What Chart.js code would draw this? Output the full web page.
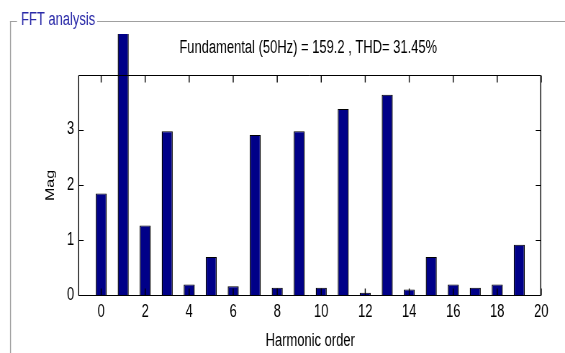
<!DOCTYPE html>
<html>
<head>
<meta charset="utf-8">
<script src="https://cdn.jsdelivr.net/npm/chart.js@4.4.1/dist/chart.umd.min.js"></script>
<style>
  body { margin: 0; background: #fff; }
  /* the figure was captured horizontally squeezed, so draw wide and squeeze it back */
  canvas { display: block; width: 565px; height: 353px; }
</style>
</head>
<body>
<canvas id="fftCanvas" width="785" height="353" style="width:565px;height:353px"></canvas>
<script>
// harmonic spectrum, values (h1 is the fundamental)
var harmonics = [0, 1, 2, 3, 4, 5, 6, 7, 8, 9, 10, 11, 12, 13, 14, 15, 16, 17, 18, 19];
var magnitudes = [1.84, 159.2, 1.26, 2.97, 0.19, 0.69, 0.16, 2.90, 0.13, 2.97,
                  0.13, 3.37, 0.04, 3.63, 0.10, 0.69, 0.19, 0.13, 0.19, 0.91];
var xTicks = [0, 2, 4, 6, 8, 10, 12, 14, 16, 18, 20];
var yTicks = [0, 1, 2, 3];
var xRange = [-1, 20];
var yRange = [0, 3.97];

var panelTitle = 'FFT analysis';
var chartTitle = 'Fundamental (50Hz) = 159.2 , THD= 31.45%';
var xLabel = 'Harmonic order';
var yLabel = 'Mag';

var sq = 565 / 785;   // horizontal squeeze of the canvas
var fam = '"Liberation Sans", Arial, sans-serif';

// 01. grey uipanel frame with its blue caption, axes title centred over the box
var panelFrame = {
  id: 'panelFrame',
  beforeDraw: function(chart) {
    var ctx = chart.ctx;
    var a = chart.chartArea;
    var capX = 21 / sq;
    ctx.save();
    ctx.font = '18px ' + fam;
    var tw = ctx.measureText(panelTitle).width;
    ctx.strokeStyle = '#a0a0a0';
    ctx.lineWidth = 1;
    ctx.beginPath();
    ctx.moveTo(17 / sq, 21.5);
    ctx.lineTo(10 / sq, 21.5);
    ctx.moveTo(capX + tw + 2 / sq, 21.5);
    ctx.lineTo(chart.width, 21.5);
    ctx.stroke();
    ctx.lineWidth = 1 / sq;
    ctx.beginPath();
    ctx.moveTo(10.5 / sq, 21);
    ctx.lineTo(10.5 / sq, 353);
    ctx.stroke();
    ctx.textBaseline = 'middle';
    ctx.fillStyle = '#2a2aa8';
    ctx.fillText(panelTitle, capX, 20);
    ctx.fillStyle = '#000';
    ctx.textAlign = 'center';
    ctx.fillText(chartTitle, (a.left + a.right) / 2 - 2 / sq, 48);
    ctx.restore();
  }
};

// 02. MATLAB style axes box, ticks pointing inwards on all sides
var axesBox = {
  id: 'axesBox',
  afterDatasetsDraw: function(chart) {
    var ctx = chart.ctx;
    var a = chart.chartArea;
    var xs = chart.scales.x, ys = chart.scales.y;
    var l = a.left - 0.5 / sq, r = a.right - 0.5 / sq, t = a.top - 0.5, b = a.bottom + 0.5;
    ctx.save();
    ctx.strokeStyle = '#000';
    // vertical strokes get squeezed, so make them wider
    ctx.lineWidth = 1 / sq;
    ctx.beginPath();
    xTicks.forEach(function(v) {
      var px = xs.getPixelForValue(v);
      ctx.moveTo(px, b); ctx.lineTo(px, b - 7);
      ctx.moveTo(px, t); ctx.lineTo(px, t + 7);
    });
    ctx.moveTo(l, t); ctx.lineTo(l, b);
    ctx.moveTo(r, t); ctx.lineTo(r, b);
    ctx.stroke();
    ctx.lineWidth = 1;
    ctx.beginPath();
    yTicks.forEach(function(v) {
      var py = Math.round(ys.getPixelForValue(v)) + 0.5;
      ctx.moveTo(l, py); ctx.lineTo(l + 5 / sq, py);
      ctx.moveTo(r, py); ctx.lineTo(r - 5 / sq, py);
    });
    ctx.moveTo(l, t); ctx.lineTo(r, t);
    ctx.moveTo(l, b); ctx.lineTo(r, b);
    ctx.stroke();
    ctx.restore();
  }
};

var points = harmonics.map(function(h, i) { return { x: h, y: magnitudes[i] }; });

new Chart(document.getElementById('fftCanvas'), {
  type: 'bar',
  data: {
    datasets: [{
      data: points,
      backgroundColor: '#000088',
      borderColor: '#000000',
      borderWidth: { top: 1, bottom: 0, left: 1 / sq, right: 1 / sq },
      barPercentage: 0.5,
      categoryPercentage: 1.0,
      clip: { left: 0, top: 42, right: 0, bottom: 0 }
    }]
  },
  options: {
    responsive: false,
    animation: false,
    layout: { padding: { left: 0, top: 76, right: 33, bottom: 0 } },
    plugins: {
      legend: { display: false },
      tooltip: { enabled: false },
      title: { display: false }
    },
    scales: {
      x: {
        type: 'linear',
        offset: false,
        min: xRange[0],
        max: xRange[1],
        afterBuildTicks: function(scale) {
          scale.ticks = xTicks.map(function(v) { return { value: v }; });
        },
        afterFit: function(scale) { scale.height = 58; },
        grid: { display: false, drawTicks: false },
        border: { display: false },
        ticks: { color: '#000', padding: 6, maxRotation: 0, font: { family: fam, size: 18 } },
        title: {
          display: true,
          text: xLabel,
          color: '#000',
          font: { family: fam, size: 18 },
          padding: { top: 0, bottom: 1 }
        }
      },
      y: {
        min: yRange[0],
        max: yRange[1],
        afterBuildTicks: function(scale) {
          scale.ticks = yTicks.map(function(v) { return { value: v }; });
        },
        afterFit: function(scale) { scale.width = 110; },
        grid: { display: false, drawTicks: false },
        border: { display: false },
        ticks: { color: '#000', padding: 7, font: { family: fam, size: 18 } },
        title: {
          display: true,
          text: yLabel,
          color: '#000',
          font: { family: fam, size: 16 },
          padding: { top: 61, bottom: 0 }
        }
      }
    }
  },
  plugins: [panelFrame, axesBox]
});
</script>
</body>
</html>
